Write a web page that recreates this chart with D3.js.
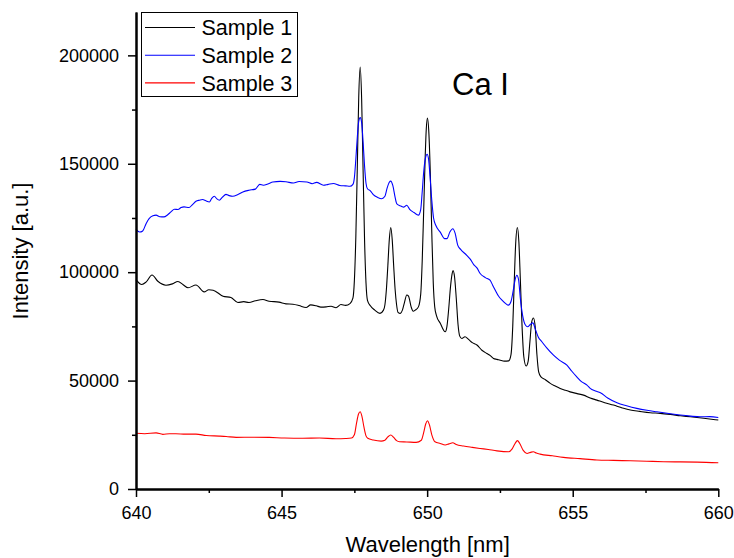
<!DOCTYPE html>
<html><head><meta charset="utf-8">
<script src="https://cdn.jsdelivr.net/npm/d3@7/dist/d3.min.js"></script>
<style>
html,body{margin:0;padding:0;background:#fff;}
svg{display:block;font-family:"Liberation Sans",Arial,sans-serif;}
</style></head>
<body><svg id="chart" width="734" height="558"></svg>
<script>
// ---- data ----
const seriesNames = ["Sample 1", "Sample 2", "Sample 3"];
const seriesColors = ["#000000", "#0000ff", "#ff0000"];
const xTicks = [640, 645, 650, 655, 660];
const xMinorTicks = [642.5, 647.5, 652.5, 657.5];
const yTicks = [0, 50000, 100000, 150000, 200000];
const yMinorTicks = [25000, 75000, 125000, 175000];
const annotation = "Ca I";

const wl1 = [640.00,640.20,640.35,640.55,640.75,641.03,641.25,641.44,641.62,641.79,642.06,642.34,642.50,642.65,642.99,643.26,643.50,643.70,643.88,644.10,644.36,644.57,644.91,645.15,645.39,645.60,645.84,646.00,646.19,646.35,646.53,646.70,646.87,647.04,647.20,647.35,647.45,647.50,647.55,647.60,647.65,647.70,647.75,647.80,647.85,647.90,647.95,648.05,648.20,648.38,648.50,648.55,648.60,648.65,648.70,648.75,648.80,648.85,648.90,648.95,649.00,649.08,649.15,649.22,649.30,649.36,649.45,649.52,649.59,649.70,649.78,649.83,649.88,649.93,649.97,650.01,650.06,650.11,650.16,650.21,650.26,650.32,650.45,650.62,650.68,650.74,650.80,650.86,650.89,650.94,651.00,651.06,651.12,651.19,651.30,651.42,651.55,651.71,651.88,652.05,652.17,652.28,652.40,652.51,652.65,652.80,652.88,652.94,652.99,653.04,653.10,653.15,653.20,653.26,653.32,653.40,653.47,653.53,653.59,653.65,653.71,653.77,653.83,653.91,654.05,654.23,654.40,654.57,654.75,654.91,655.15,655.37,655.60,655.83,656.10,656.40,656.70,656.98,657.30,657.66,658.00,658.35,658.70,659.04,659.50,660.00];
const s1 = [96600,94300,95500,98700,95800,94000,94600,95700,94200,92800,94100,90900,91900,91700,88900,88300,86000,86400,86000,86800,87400,86600,86200,85400,85200,84600,83700,84900,84500,83900,84000,84300,83600,85100,84700,85500,88000,96000,116000,147700,180700,194600,180000,147000,115000,95000,87000,84500,82500,81000,82500,85000,92000,103000,115000,120600,115000,103000,92000,85000,81500,81000,82500,86000,89500,89000,84000,82000,82500,84000,90000,105000,128000,152000,166000,171100,164000,145000,118000,95000,84000,80000,76500,72500,75000,83000,93000,99500,100800,98000,88000,76000,70500,69400,70200,69000,67500,66400,64000,62500,61500,60200,59800,59400,59000,59100,62000,75000,95000,113000,120600,114000,97000,75000,61000,56700,59000,68000,77000,78900,75000,62000,54000,51700,50500,48700,47500,46400,45500,44800,44000,43300,42000,41000,39800,38700,37400,36400,35800,35200,34900,34400,33800,33300,32600,31800];

const wl2 = [640.00,640.12,640.23,640.35,640.45,640.58,640.69,640.82,640.96,641.08,641.20,641.32,641.44,641.55,641.65,641.82,641.94,642.06,642.18,642.29,642.40,642.52,642.60,642.69,642.78,642.86,642.97,643.09,643.20,643.32,643.50,643.67,643.88,644.10,644.25,644.37,644.55,644.70,644.95,645.15,645.41,645.60,645.87,646.05,646.20,646.44,646.60,646.78,647.00,647.20,647.35,647.45,647.50,647.55,647.60,647.65,647.70,647.75,647.80,647.85,647.90,647.95,648.05,648.15,648.30,648.44,648.55,648.62,648.70,648.75,648.82,648.90,648.96,649.10,649.20,649.30,649.40,649.55,649.70,649.78,649.83,649.88,649.94,650.00,650.05,650.10,650.16,650.22,650.30,650.45,650.60,650.68,650.78,650.88,650.96,651.05,651.15,651.36,651.48,651.60,651.71,651.82,652.00,652.16,652.25,652.34,652.45,652.57,652.70,652.79,652.88,652.95,653.02,653.08,653.14,653.20,653.28,653.38,653.45,653.55,653.63,653.72,653.82,653.94,654.10,654.34,654.55,654.80,654.97,655.14,655.30,655.49,655.60,655.78,655.95,656.20,656.52,656.85,657.20,657.55,657.89,658.30,658.69,659.05,659.38,659.70,660.00];
const s2 = [119700,118500,119000,122500,124700,126000,126300,125600,125500,126400,127800,129000,128900,129800,130100,129800,131200,132700,133200,133500,132900,132400,134000,135000,133800,133200,134600,135900,135300,135000,135800,137000,137800,138300,140500,140100,140800,141600,141900,141700,141100,141800,141600,140800,141400,140100,140500,140900,140000,139800,139600,140500,143500,152000,162000,169500,171300,169000,160000,149000,141000,138500,137500,135800,134500,133900,135000,138500,141500,142000,140000,134500,131500,130500,130000,130900,129000,127500,126300,129000,137000,146000,152500,154400,152000,144000,133000,125000,121500,118500,115500,115500,118500,120000,118000,112500,110500,107800,106000,103500,102000,99400,97500,96300,94000,91700,89000,87100,85500,84800,86500,91000,96500,98600,96500,88000,80000,75500,74800,76000,76600,73500,70000,67900,65200,61700,59300,57100,54300,51700,49500,47900,46400,45200,44400,42000,39800,38400,37200,36300,35600,34800,34100,33600,33300,33400,33000];

const wl3 = [640.00,640.30,640.69,640.92,641.15,641.37,641.70,642.06,642.41,642.86,643.10,643.44,644.00,644.58,645.10,645.73,646.30,646.87,647.20,647.40,647.50,647.57,647.64,647.70,647.76,647.83,647.90,647.96,648.15,648.42,648.55,648.65,648.75,648.85,648.95,649.05,649.30,649.62,649.80,649.88,649.95,650.01,650.08,650.16,650.27,650.45,650.62,650.75,650.88,651.00,651.25,651.55,651.82,652.10,652.40,652.80,652.92,653.02,653.10,653.18,653.30,653.43,653.55,653.65,653.75,653.88,654.30,654.68,655.25,655.83,656.40,656.98,657.55,658.12,658.70,659.27,660.00];
const s3 = [25700,25500,25900,25200,25500,25500,25300,25300,24700,24400,24200,23800,23900,23800,23500,23400,23500,23200,23300,23500,25000,30000,34500,35600,33500,28500,24500,23400,22600,22100,22500,24000,24900,23800,22300,21800,21700,21500,22500,26000,30000,31500,29500,25000,21800,21000,20300,20800,21300,20500,19800,19200,18700,18200,17600,17200,18500,21000,22300,21000,17800,16400,16900,17200,16600,16100,15300,14600,14000,13400,13200,13000,12800,12600,12500,12400,12100];

const xLabel = "Wavelength [nm]";
const yLabel = "Intensity [a.u.]";

// ---- chart ----
(function () {
const svg = d3.select("#chart");
const mLeft = 136, mRight = 718.3, mTop = 12, mBottom = 489;
const x = d3.scaleLinear().domain([640, 660]).range([mLeft, mRight]);
const y = d3.scaleLinear().domain([0, 220000]).range([mBottom, mTop]);

const series = [
  {name: seriesNames[0], color: seriesColors[0], wl: wl1, v: s1},
  {name: seriesNames[1], color: seriesColors[1], wl: wl2, v: s2},
  {name: seriesNames[2], color: seriesColors[2], wl: wl3, v: s3}
];

const line = d3.line().x(d => x(d[0])).y(d => y(d[1])).curve(d3.curveMonotoneX);
const drawOrder = [2, 0, 1];
drawOrder.forEach(i => {
  const s = series[i];
  svg.append("path")
    .datum(s.wl.map((w, k) => [w, s.v[k]]))
    .attr("fill", "none")
    .attr("stroke", s.color)
    .attr("stroke-width", 1.1)
    .attr("d", line);
});

// axes
const fontSize = "18px";
const xAxis = svg.append("g").attr("transform", `translate(0,${mBottom})`)
  .call(d3.axisBottom(x).tickValues(xTicks).tickSize(8).tickSizeOuter(0).tickPadding(9).tickFormat(d3.format("d")));
const xMinor = svg.append("g").attr("transform", `translate(0,${mBottom})`)
  .call(d3.axisBottom(x).tickValues(xMinorTicks).tickSize(4).tickSizeOuter(0).tickFormat(""));
const yAxis = svg.append("g").attr("transform", `translate(${mLeft},0)`)
  .call(d3.axisLeft(y).tickValues(yTicks).tickSize(8).tickSizeOuter(0).tickPadding(9).tickFormat(d3.format("d")));
const yMinor = svg.append("g").attr("transform", `translate(${mLeft},0)`)
  .call(d3.axisLeft(y).tickValues(yMinorTicks).tickSize(4).tickSizeOuter(0).tickFormat(""));

[xAxis, xMinor, yAxis, yMinor].forEach(g => {
  g.selectAll("path.domain").attr("stroke", "#000").attr("stroke-width", 2);
  g.selectAll(".tick line").attr("stroke", "#000").attr("stroke-width", 1.5);
  g.selectAll(".tick text").attr("fill", "#000")
    .style("font-family", '"Liberation Sans", Arial, sans-serif').style("font-size", fontSize);
});

// axis titles
svg.append("text").attr("x", (mLeft + mRight) / 2 + 0.5).attr("y", 551.5)
  .attr("text-anchor", "middle").style("font-size", "22px").attr("fill", "#000").text(xLabel);
svg.append("text").attr("transform", `translate(28,251) rotate(-90)`)
  .attr("text-anchor", "middle").style("font-size", "22px").attr("fill", "#000").text(yLabel);

// annotation
svg.append("text").attr("x", 452).attr("y", 95).style("font-size", "31px").attr("fill", "#000").text(annotation);

// legend
const lg = svg.append("g");
lg.append("rect").attr("x", 141.5).attr("y", 12.5).attr("width", 156).attr("height", 84)
  .attr("fill", "#fff").attr("stroke", "#000").attr("stroke-width", 1);
series.forEach((s, i) => {
  const yy = 27.5 + i * 27.7;
  lg.append("line").attr("x1", 145).attr("x2", 195).attr("y1", yy).attr("y2", yy)
    .attr("stroke", s.color).attr("stroke-width", 1.1);
  lg.append("text").attr("x", 201.5).attr("y", yy + 7.8).style("font-size", "21.5px")
    .attr("fill", "#000").text(s.name);
});
})();
</script>
</body></html>
